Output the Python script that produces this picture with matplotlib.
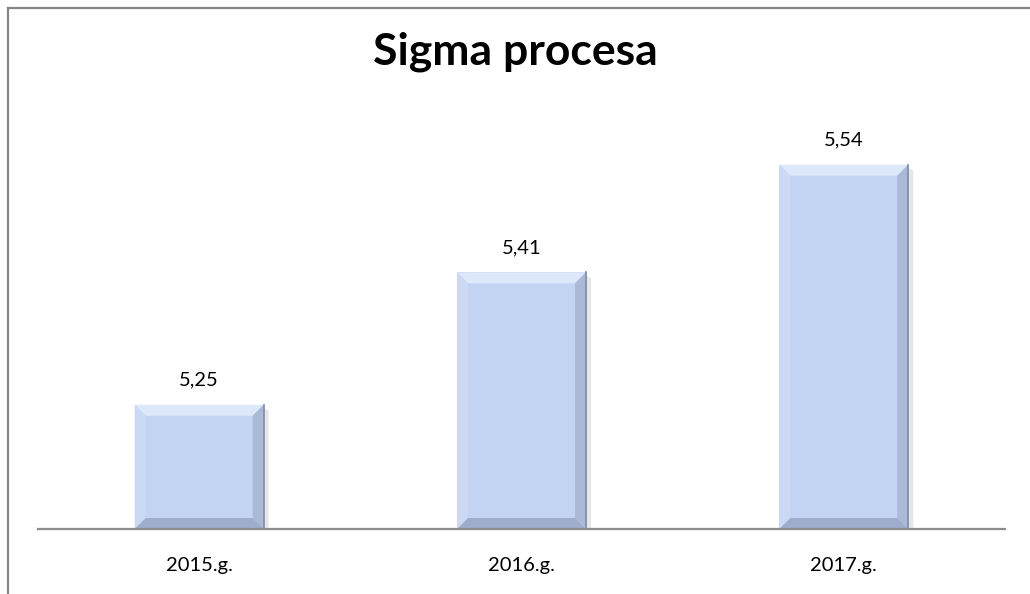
import matplotlib

matplotlib.use("Agg")
import matplotlib.pyplot as plt
from matplotlib.lines import Line2D
from matplotlib.patches import Polygon

years = ["2015.g.", "2016.g.", "2017.g."]
sigma = [5.25, 5.41, 5.54]
value_labels = ["5,25", "5,41", "5,54"]

plt.rcParams["font.family"] = ["Lato", "DejaVu Sans"]

fig = plt.figure(figsize=(10.3, 5.94), dpi=100)
ax = fig.add_axes([38 / 1030, 65 / 594, 967 / 1030, 414 / 594])

bars = ax.bar(range(len(years)), [v - 5.1 for v in sigma], bottom=5.1, width=0.4,
              color="#C3D4F3", edgecolor="none", zorder=2)
ax.set_xlim(-0.5, len(years) - 0.5)
ax.set_ylim(5.1, 5.6)

# bevel effect, size in pixels converted to data units
fig.canvas.draw()
px_x = 1 / (ax.transData.transform((1, 0))[0] - ax.transData.transform((0, 0))[0])
px_y = 1 / (ax.transData.transform((0, 1))[1] - ax.transData.transform((0, 0))[1])
bev = 11
for b in bars:
    x0, y0 = b.get_x(), b.get_y()
    x1, y1 = x0 + b.get_width(), y0 + b.get_height()
    bx, by = bev * px_x, bev * px_y
    # drop shadow
    ax.add_patch(Polygon([(x1, y1 - 3 * px_y), (x1 + 5 * px_x, y1 - 6 * px_y),
                          (x1 + 5 * px_x, y0), (x1, y0)],
                         closed=True, color="#E6E6E6", zorder=1, lw=0))
    ax.add_patch(Polygon([(x0, y1), (x1, y1), (x1 - bx, y1 - by), (x0 + bx, y1 - by)],
                         closed=True, color="#DDE8FA", zorder=3, lw=0))
    ax.add_patch(Polygon([(x0, y1), (x0 + bx, y1 - by), (x0 + bx, y0 + by), (x0, y0)],
                         closed=True, color="#CBD9F4", zorder=3, lw=0))
    ax.add_patch(Polygon([(x1, y1), (x1, y0), (x1 - bx, y0 + by), (x1 - bx, y1 - by)],
                         closed=True, color="#A9B9D6", zorder=3, lw=0))
    ax.add_patch(Polygon([(x0, y0), (x1, y0), (x1 - bx, y0 + by), (x0 + bx, y0 + by)],
                         closed=True, color="#9DADCB", zorder=3, lw=0))
    ax.plot([x1, x1], [y0, y1], color="#7D8BA6", lw=1.2, zorder=4)

for i, lab in enumerate(value_labels):
    ax.annotate(lab, (i, sigma[i]), xytext=(0, 13.7), textcoords="offset points",
                ha="center", va="baseline", fontsize=14.5, color="#000000")

ax.set_xticks(range(len(years)))
ax.set_xticklabels(years, fontsize=14.5)
ax.tick_params(axis="x", length=0, pad=20)
ax.set_yticks([])
for side in ["top", "right", "left"]:
    ax.spines[side].set_visible(False)
ax.spines["bottom"].set_color("#8C8C8C")
ax.spines["bottom"].set_linewidth(1.6)
ax.spines["bottom"].set_zorder(5)

fig.text(0.5, 1 - 52 / 594, "Sigma procesa", ha="center", va="center",
         fontsize=32, fontweight="bold")

# outer chart frame (right and bottom edges fall outside the picture)
fig.add_artist(Line2D([8 / 1030, 1.0], [1 - 8 / 594, 1 - 8 / 594],
                      transform=fig.transFigure, color="#868686", lw=1.6))
fig.add_artist(Line2D([8 / 1030, 8 / 1030], [0.0, 1 - 8 / 594],
                      transform=fig.transFigure, color="#868686", lw=1.6))

fig.savefig("out.png", dpi=100)
plt.close(fig)
